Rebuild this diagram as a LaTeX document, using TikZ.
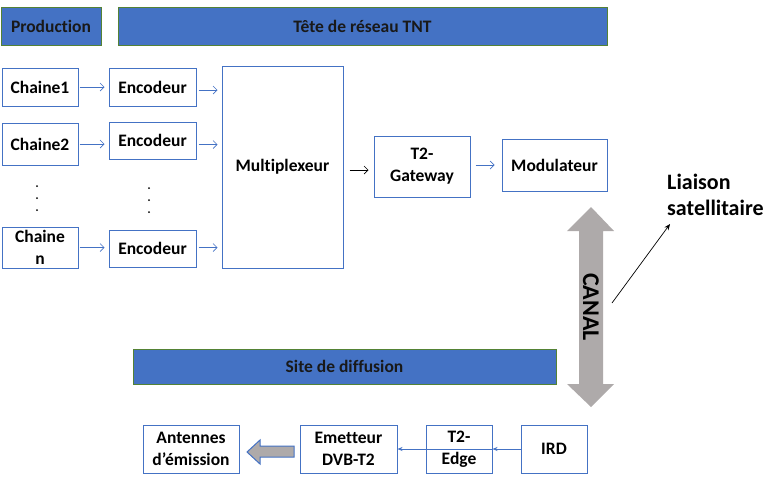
\documentclass[tikz,border=0pt]{standalone}
\usepackage{fontspec}
\setmainfont{Carlito}[Ligatures=NoCommon]
\usetikzlibrary{arrows.meta}
\definecolor{bblue}{HTML}{4472C4}
\definecolor{bgreen}{HTML}{548235}
\definecolor{agray}{HTML}{AEAAAA}
\tikzset{
  txt/.style={font=\bfseries\fontsize{17.5}{22}\selectfont, align=center, inner sep=0pt},
  box/.style={txt, draw=bblue, line width=1pt, fill=white},
  bar/.style={txt, draw=bgreen, line width=1pt, fill=bblue, text=black!90},
  arr/.style={draw=bblue, line width=0.7pt, -{Straight Barb[length=4pt,width=8pt]}},
  barr/.style={draw=black, line width=0.7pt, -{Straight Barb[length=4pt,width=8pt]}},
  farr/.style={draw=bblue, line width=0.7pt, -{Stealth[length=5pt,width=4pt]}},
}
\begin{document}
\begin{tikzpicture}[x=1pt,y=-1pt]
\useasboundingbox (0,0) rectangle (777,480);
% header bars
\node[bar, minimum width=100pt, minimum height=38pt] (prod) at (51,26) {Production};
\node[bar, minimum width=489pt, minimum height=38pt] (tete) at (362.5,26) {Tête de réseau TNT};
\node[bar, minimum width=423pt, minimum height=35pt] (site) at (344.5,366.5) {Site de diffusion};
% channel and encoder boxes
\node[box, minimum width=76pt, minimum height=38pt] (c1) at (40,87) {Chaine1};
\node[box, minimum width=76pt, minimum height=42pt] (c2) at (40,144) {Chaine2};
\node[box, minimum width=76pt, minimum height=41pt] (cn) at (40,247.5) {Chaine\\n};
\node[box, minimum width=87pt, minimum height=38pt] (e1) at (152.5,87) {Encodeur};
\node[box, minimum width=87pt, minimum height=37pt] (e2) at (152.5,140.5) {Encodeur};
\node[box, minimum width=87pt, minimum height=37pt] (en) at (152.5,248.5) {Encodeur};
\node[box, minimum width=121pt, minimum height=202pt] (mux) at (282.5,167) {Multiplexeur};
\node[box, minimum width=96pt, minimum height=61pt] (t2g) at (422,166.5) {T2-\\Gateway};
\node[box, minimum width=105pt, minimum height=52pt] (mod) at (554.5,165) {Modulateur};
% bottom chain
\node[box, minimum width=96pt, minimum height=48pt] (ant) at (191,449) {Antennes\\d’émission};
\node[box, minimum width=97pt, minimum height=48pt] (emet) at (348.5,449) {Emetteur\\DVB-T2};
\node[box, minimum width=66pt, minimum height=48pt] (edge) at (459,449) {T2-\\Edge};
\node[box, minimum width=66pt, minimum height=48pt] (ird) at (554,449) {IRD};
% dots
\foreach \y in {186,198,210} \fill (37,\y) circle (1pt);
\foreach \y in {188,200,212} \fill (149,\y) circle (1pt);
% arrows top
\draw[arr, shorten <=1pt, shorten >=4pt] (c1.east) -- (e1.west);
\draw[arr, shorten <=1pt, shorten >=4pt] (c2.east) -- (c2.east -| e2.west);
\draw[arr, shorten <=1pt, shorten >=4pt] (cn.east) -- (cn.east -| en.west);
\draw[arr, shorten <=2pt, shorten >=4pt] ([yshift=-3pt]e1.east) -- ([yshift=-3pt]e1.east -| mux.west);
\draw[arr, shorten <=2pt, shorten >=4pt] ([yshift=-4pt]e2.east) -- ([yshift=-4pt]e2.east -| mux.west);
\draw[arr, shorten <=2pt, shorten >=4pt] ([yshift=1pt]en.east) -- ([yshift=1pt]en.east -| mux.west);
\draw[barr, shorten <=6pt, shorten >=5pt] ([yshift=-3pt]mux.east) -- ([yshift=-3pt]mux.east -| t2g.west);
\draw[arr, shorten <=5pt, shorten >=7pt] (t2g.east |- mod.west) -- (mod.west);
% bottom arrows
\draw[farr] (ird.west) -- (edge.east);
\draw[farr] (edge.east) -- (emet.east);
% gray block arrow
\draw[fill=agray, draw=bblue, line width=1pt] (247,452) -- (260,440) -- (260,446) -- (294,446) -- (294,457) -- (260,457) -- (260,464) -- cycle;
% CANAL double arrow
\fill[agray] (591,207) -- (614,231) -- (603,231) -- (603,384) -- (614,384) -- (591,407) -- (567,384) -- (579,384) -- (579,231) -- (567,231) -- cycle;
\node[font=\bfseries\fontsize{24}{28}\selectfont, rotate=-90, inner sep=0pt] (canal) at (591,307) {CANAL};
% satellite link
\node[font=\bfseries\fontsize{22}{26}\selectfont, align=left, anchor=west, inner sep=0pt] (liaison) at (667,195) {Liaison\\satellitaire};
\coordinate (ls) at (612,303);
\coordinate (le) at (670,224);
\draw[line width=0.7pt, -{Stealth[length=6pt,width=5pt]}] (ls) -- (le);
\end{tikzpicture}
\end{document}
